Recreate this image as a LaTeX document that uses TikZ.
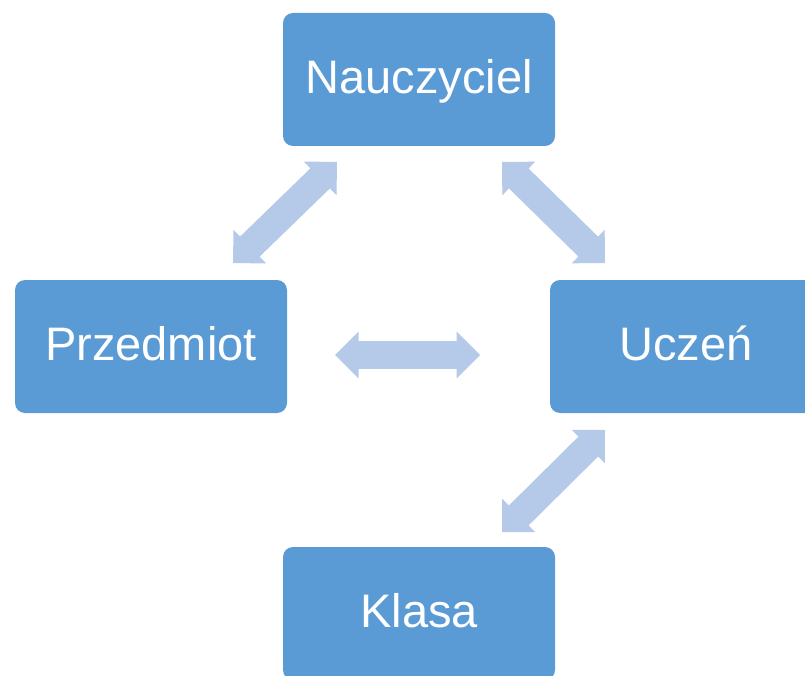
\documentclass[tikz,border=0pt]{standalone}
\usepackage{fontspec}
\setmainfont{Liberation Sans}
\usetikzlibrary{calc}
\definecolor{boxblue}{RGB}{91,155,213}
\definecolor{linkblue}{RGB}{181,202,232}
\tikzset{
  entity/.style={rectangle, rounded corners=10pt, fill=boxblue, text=white,
    minimum width=272pt, minimum height=133pt, inner sep=0pt,
    font=\fontsize{47pt}{56pt}\selectfont, text height=33.6pt, text depth=6pt},
  link/.style={fill=linkblue, draw=none}
}
% Two-headed block arrow between two tip coordinates:
% heads with a right-angled tip, 23.5pt long, shaft 28pt wide.
\newcommand\twowaylink[2]{%
  \fill[link] (#1)
    -- ($(#1)!33.23pt!45:(#2)$) -- ($(#1)!27.35pt!30.78:(#2)$)
    -- ($(#2)!27.35pt!-30.78:(#1)$) -- ($(#2)!33.23pt!-45:(#1)$)
    -- (#2)
    -- ($(#2)!33.23pt!45:(#1)$) -- ($(#2)!27.35pt!30.78:(#1)$)
    -- ($(#1)!27.35pt!-30.78:(#2)$) -- ($(#1)!33.23pt!-45:(#2)$)
    -- cycle;}
\begin{document}
\begin{tikzpicture}[x=1pt,y=-1pt]
  \useasboundingbox (0,0) rectangle (805,676);
  \clip (0,0) rectangle (805,676);

  % boxes
  \node[entity] (nauczyciel) at (419,79.5) {Nauczyciel};
  \node[entity] (przedmiot) at (151,346.5) {Przedmiot};
  \node[entity] (uczen) at (686,346.5) {Uczeń};
  \node[entity] (klasa) at (419,613.5) {Klasa};

  % arrow tips
  \coordinate (np) at (233,263);
  \coordinate (pn) at (337,162);
  \coordinate (nu) at (502,162);
  \coordinate (un) at (605,263);
  \coordinate (pu) at (335,355);
  \coordinate (up) at (480,355);
  \coordinate (uk) at (605,430);
  \coordinate (ku) at (502,532);

  % links
  \twowaylink{pn}{np}
  \twowaylink{nu}{un}
  \twowaylink{pu}{up}
  \twowaylink{uk}{ku}
\end{tikzpicture}
\end{document}
